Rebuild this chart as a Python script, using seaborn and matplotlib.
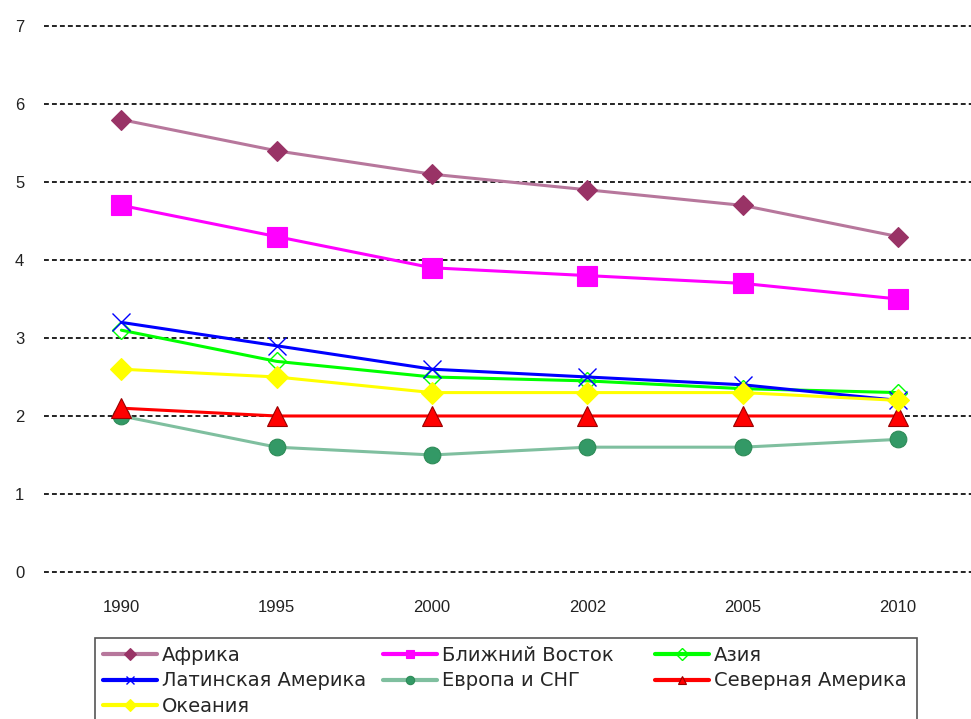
import pandas as pd
from matplotlib import pyplot as plt
from matplotlib.lines import Line2D
from matplotlib.patches import Rectangle
import seaborn as sns

years = ['1990', '1995', '2000', '2002', '2005', '2010']

africa = [5.8, 5.4, 5.1, 4.9, 4.7, 4.3]
middle_east = [4.7, 4.3, 3.9, 3.8, 3.7, 3.5]
asia = [3.1, 2.7, 2.5, 2.45, 2.35, 2.3]
latin_america = [3.2, 2.9, 2.6, 2.5, 2.4, 2.2]
europe_cis = [2.0, 1.6, 1.5, 1.6, 1.6, 1.7]
north_america = [2.1, 2.0, 2.0, 2.0, 2.0, 2.0]
oceania = [2.6, 2.5, 2.3, 2.3, 2.3, 2.2]

series = [
    ('Африка', africa),
    ('Ближний Восток', middle_east),
    ('Азия', asia),
    ('Латинская Америка', latin_america),
    ('Европа и СНГ', europe_cis),
    ('Северная Америка', north_america),
    ('Океания', oceania),
]

# line colour, marker, face, edge, size, edge width
styles = {
    'Африка': ('#b7779c', 'D', '#993366', '#993366', 10, 0.8),
    'Ближний Восток': ('#ff00ff', 's', '#ff00ff', '#ff00ff', 14, 0.8),
    'Азия': ('#00ff00', 'D', 'none', '#00ff00', 9, 1.0),
    'Латинская Америка': ('#0000ff', 'x', '#0000ff', '#0000ff', 13, 1.0),
    'Европа и СНГ': ('#7fbf9f', 'o', '#339966', '#2e8b57', 12, 0.8),
    'Северная Америка': ('#ff0000', '^', '#ff0000', '#990000', 14, 0.8),
    'Океания': ('#ffff00', 'D', '#ffff00', '#ffff00', 11, 0.8),
}

rows = []
for name, vals in series:
    for i, v in enumerate(vals):
        rows.append({'region': name, 'pos': i, 'value': v})
df = pd.DataFrame(rows)

sns.set_style('white')
plt.rcParams['font.family'] = ['Liberation Sans', 'DejaVu Sans']

fig = plt.figure(figsize=(9.71, 7.19), dpi=100)
ax = fig.add_axes([0.045, 0.2045, 0.96, 0.7593])

for name, _ in series:
    color, marker, face, edge, size, mew = styles[name]
    sub = df[df['region'] == name]
    sns.lineplot(data=sub, x='pos', y='value', ax=ax, color=color, linewidth=2.2,
                 marker=marker, markersize=size, markerfacecolor=face,
                 markeredgecolor=edge, markeredgewidth=mew,
                 clip_on=False, zorder=3, legend=False)

ax.set_xlim(-0.5, 5.5)
ax.set_ylim(0, 7)
ax.set_yticks(range(0, 8))
ax.set_xticks(range(len(years)))
ax.set_xticklabels(years)
ax.set_xlabel('')
ax.set_ylabel('')
for s in ax.spines.values():
    s.set_visible(False)
ax.grid(axis='y', color='#222222', linestyle=(0, (2.5, 1.6)), linewidth=1.4)
ax.grid(axis='x', visible=False)
for gl in ax.get_ygridlines():
    gl.set_clip_on(False)
ax.tick_params(axis='y', length=0, pad=14, labelsize=12, colors='#222222')
ax.tick_params(axis='x', length=0, pad=20, labelsize=12, colors='#222222')

# legend: three columns, filled row by row, in one box
columns = [
    (['Африка', 'Латинская Америка', 'Океания'], 103),
    (['Ближний Восток', 'Европа и СНГ'], 383),
    (['Азия', 'Северная Америка'], 655),
]
W, H = 971, 719
for names, x0 in columns:
    handles = []
    for name in names:
        color, marker, face, edge, size, mew = styles[name]
        handles.append(Line2D([], [], color=color, linewidth=3, marker=marker,
                              markersize=6, markerfacecolor=face,
                              markeredgecolor=edge, markeredgewidth=mew))
    fig.legend(handles, names, loc='upper left', bbox_to_anchor=(x0 / W, 1 - 646 / H),
               frameon=False, prop={'family': 'DejaVu Sans', 'size': 14},
               handlelength=2.8, handletextpad=0.25, borderpad=0, borderaxespad=0,
               labelspacing=0.33)

fig.patches.append(Rectangle((95 / W, -0.05), (917 - 95) / W, 0.05 + 1 - 638 / H,
                             transform=fig.transFigure, fill=False,
                             edgecolor='#555555', linewidth=1.2))

fig.savefig('out.png', dpi=100)
